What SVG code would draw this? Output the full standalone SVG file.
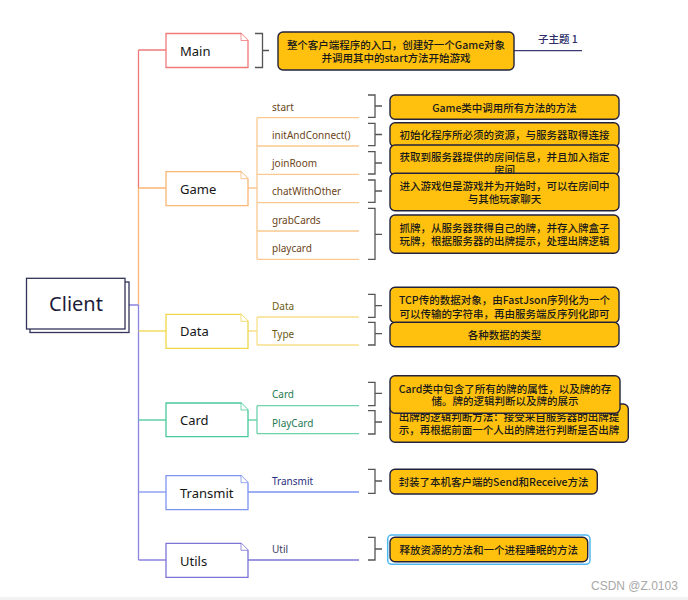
<svg xmlns="http://www.w3.org/2000/svg" width="688" height="600" viewBox="0 0 688 600">
<style>
.node{fill:#fff;stroke-width:1.3}
.fold{fill:#fff;stroke-width:0.8}
.nl{font-family:"Noto Sans","Liberation Sans",sans-serif;font-size:13px;font-weight:400;fill:#161616;dominant-baseline:central}
.sl{font-family:"Noto Sans","Liberation Sans",sans-serif;font-size:10px;font-weight:400;dominant-baseline:central}
.co{fill:#ffc10e;stroke:#22223d;stroke-width:1.4}
.ct{font-family:"Noto Sans CJK SC","Noto Sans",sans-serif;font-size:10.5px;font-weight:500;fill:#1a1a1a;text-anchor:middle;dominant-baseline:central}
.br{fill:none;stroke:#555;stroke-width:1.3}
.ln{fill:none;stroke-width:1.3}
</style>
<rect x="0" y="0" width="688" height="600" fill="#fff"/>
<rect x="0" y="597" width="688" height="3" fill="#f2f2f2"/>

<g id="connectors">
  <path class="ln" stroke="#f07a7a" d="M138.5 50V188M138.5 50H166"/>
  <path class="ln" stroke="#f9b675" d="M138.5 188V305M138.5 188H166"/>
  <path class="ln" stroke="#8a84e0" d="M138.5 305V560M129 305H138.5M138.5 560H166"/>
  <path class="ln" stroke="#f2d64b" d="M138.5 331H166"/>
  <path class="ln" stroke="#49c99b" d="M138.5 420H166"/>
  <path class="ln" stroke="#7d93f0" d="M138.5 492H166"/>
  <path class="ln" stroke="#fbc990" d="M248 188H257M257 117.7V259.3M257 117.7H359M257 146H359M257 174.3H359M257 202.7H359M257 231H359M257 259.3H359"/>
  <path class="ln" stroke="#f7e08a" d="M248 331H257M257 317V345M257 317H359M257 345H359"/>
  <path class="ln" stroke="#6ed3ad" d="M248 420H257M257 405.7V433.7M257 405.7H359M257 433.7H359"/>
  <path class="ln" stroke="#7d93f0" d="M248 492H359"/>
  <path class="ln" stroke="#7b74d6" d="M248 560H359"/>
  <path class="br" d="M255 33.5H262.5V67.5H255M262.5 50.5H269"/>
  <path class="br" d="M368 95H375V117.3H368M375 106H382"/>
  <path class="br" d="M368 123.3H375V145.7H368M375 134.5H382"/>
  <path class="br" d="M368 151.7H375V174H368M375 163H382"/>
  <path class="br" d="M368 180H375V202.3H368M375 191H382"/>
  <path class="br" d="M368 208.3H375V259.3H368M375 234.3H382"/>
  <path class="br" d="M368 294.3H375V317.3H368M375 305.7H382"/>
  <path class="br" d="M368 322.3H375V345H368M375 333.7H382"/>
  <path class="br" d="M368 382.3H375V405.7H368M375 393.3H382"/>
  <path class="br" d="M368 410.7H375V434H368M375 422H382"/>
  <path class="br" d="M368 469.3H375V493.3H368M375 481H382"/>
  <path class="br" d="M368 537.3H375V560H368M375 549H382"/>
  <path class="ln" stroke="#3a3a70" d="M514 50.7H582"/>
</g>

<g id="client">
  <rect x="30" y="282" width="99" height="50.5" fill="#fff" stroke="#33335a" stroke-width="1.3"/>
  <rect x="26.5" y="278.3" width="98.5" height="50.7" fill="#fff" stroke="#33335a" stroke-width="1.3"/>
  <text x="76" y="303.5" font-family="'Noto Sans','Liberation Sans',sans-serif" font-size="20" font-weight="400" fill="#1c1c3a" text-anchor="middle" dominant-baseline="central">Client</text>
</g>

<g id="main">
  <path class="node" stroke="#f07a7a" d="M166 33.5H241L248 40.5V67.5H166Z"/>
  <path class="fold" stroke="#f07a7a" d="M241 33.5V40.5H248"/>
  <text class="nl" x="180" y="50.5">Main</text>
</g>
<g id="game">
  <path class="node" stroke="#f9b675" d="M166 171.7H241L248 178.7V205.7H166Z"/>
  <path class="fold" stroke="#f9b675" d="M241 171.7V178.7H248"/>
  <text class="nl" x="180" y="188.5">Game</text>
</g>
<g id="data">
  <path class="node" stroke="#f2d64b" d="M166 314.3H241L248 321.3V348.3H166Z"/>
  <path class="fold" stroke="#f2d64b" d="M241 314.3V321.3H248"/>
  <text class="nl" x="180" y="331">Data</text>
</g>
<g id="card">
  <path class="node" stroke="#49c99b" d="M166 403H241L248 410V436.7H166Z"/>
  <path class="fold" stroke="#49c99b" d="M241 403V410H248"/>
  <text class="nl" x="180" y="420">Card</text>
</g>
<g id="transmit">
  <path class="node" stroke="#7d93f0" d="M166 475.7H241L248 482.7V509.7H166Z"/>
  <path class="fold" stroke="#7d93f0" d="M241 475.7V482.7H248"/>
  <text class="nl" x="180" y="492.5">Transmit</text>
</g>
<g id="utils">
  <path class="node" stroke="#7b74d6" d="M166 543.3H241L248 550.3V577.3H166Z"/>
  <path class="fold" stroke="#7b74d6" d="M241 543.3V550.3H248"/>
  <text class="nl" x="180" y="560.5">Utils</text>
</g>

<g id="subitems">
  <text class="sl" x="272" y="106.5" fill="#6b4520">start</text>
  <text class="sl" x="272" y="134.5" fill="#6b4520">initAndConnect()</text>
  <text class="sl" x="272" y="163" fill="#6b4520">joinRoom</text>
  <text class="sl" x="272" y="191" fill="#6b4520">chatWithOther</text>
  <text class="sl" x="272" y="219.5" fill="#6b4520">grabCards</text>
  <text class="sl" x="272" y="248" fill="#6b4520">playcard</text>
  <text class="sl" x="272" y="305.7" fill="#6b5c13">Data</text>
  <text class="sl" x="272" y="334" fill="#6b5c13">Type</text>
  <text class="sl" x="272" y="394" fill="#1e7a52">Card</text>
  <text class="sl" x="272" y="422.7" fill="#1e7a52">PlayCard</text>
  <text class="sl" x="272" y="481" fill="#2b2f80">Transmit</text>
  <text class="sl" x="272" y="549" fill="#3a3a60">Util</text>
</g>

<g id="callout-main">
  <rect class="co" x="278" y="32" width="236" height="38" rx="5"/>
  <text class="ct" x="396" y="44" font-size="10.9">整个客户端程序的入口，创建好一个Game对象</text>
  <text class="ct" x="396" y="57.5" font-size="10.9">并调用其中的start方法开始游戏</text>
</g>
<g id="subtopic">
  <text x="538" y="38" font-family="'Noto Sans CJK SC','Noto Sans',sans-serif" font-size="10.5" font-weight="500" fill="#2d2d6b" dominant-baseline="central">子主题 1</text>
</g>
<g id="callout-start">
  <rect class="co" x="390" y="95" width="229" height="24.3" rx="5"/>
  <text class="ct" x="504.5" y="107">Game类中调用所有方法的方法</text>
</g>
<g id="callout-init">
  <rect class="co" x="390" y="122.7" width="229" height="24" rx="5"/>
  <text class="ct" x="504.5" y="134.5">初始化程序所必须的资源，与服务器取得连接</text>
</g>
<g id="callout-join">
  <rect class="co" x="390" y="145" width="229" height="30" rx="5"/>
  <text class="ct" x="504.5" y="156.7">获取到服务器提供的房间信息，并且加入指定</text>
  <text class="ct" x="504.5" y="169.5">房间</text>
</g>
<g id="callout-chat">
  <rect class="co" x="390" y="173.3" width="229" height="37.4" rx="5"/>
  <text class="ct" x="504.5" y="185.3">进入游戏但是游戏并为开始时，可以在房间中</text>
  <text class="ct" x="504.5" y="198.5">与其他玩家聊天</text>
</g>
<g id="callout-grab">
  <rect class="co" x="390" y="215" width="229" height="38.3" rx="5"/>
  <text class="ct" x="504.5" y="227.5">抓牌，从服务器获得自己的牌，并存入牌盒子</text>
  <text class="ct" x="504.5" y="240.8">玩牌，根据服务器的出牌提示，处理出牌逻辑</text>
</g>
<g id="callout-data">
  <rect class="co" x="390" y="287.3" width="229" height="35.4" rx="5"/>
  <text class="ct" x="504.5" y="299.5">TCP传的数据对象，由FastJson序列化为一个</text>
  <text class="ct" x="504.5" y="313.3">可以传输的字符串，再由服务端反序列化即可</text>
</g>
<g id="callout-type">
  <rect class="co" x="390" y="322.3" width="229" height="24.4" rx="5"/>
  <text class="ct" x="504.5" y="334.3">各种数据的类型</text>
</g>
<g id="callout-playcard">
  <rect class="co" x="390" y="404" width="238.3" height="38.3" rx="5"/>
  <text class="ct" x="509" y="416.7">出牌的逻辑判断方法：接受来自服务器的出牌提</text>
  <text class="ct" x="509" y="429.3">示，再根据前面一个人出的牌进行判断是否出牌</text>
</g>
<g id="callout-card">
  <rect class="co" x="390" y="375.7" width="230" height="37.6" rx="5"/>
  <text class="ct" x="505" y="388.3">Card类中包含了所有的牌的属性，以及牌的存</text>
  <text class="ct" x="505" y="400.8">储。牌的逻辑判断以及牌的展示</text>
</g>
<g id="callout-transmit">
  <rect class="co" x="390" y="469.3" width="207.3" height="24.7" rx="5"/>
  <text class="ct" x="493.6" y="481.7">封装了本机客户端的Send和Receive方法</text>
</g>
<g id="callout-util">
  <rect x="387.7" y="535" width="202.3" height="29.3" rx="4" fill="none" stroke="#4fb8f0" stroke-width="1.5"/>
  <rect class="co" x="390" y="537.3" width="197.7" height="24.4" rx="5"/>
  <text class="ct" x="488.8" y="549.5">释放资源的方法和一个进程睡眠的方法</text>
</g>
<text x="591" y="586" font-family="'Liberation Sans','Noto Sans',sans-serif" font-size="12" fill="#a8a8a8" dominant-baseline="central">CSDN @Z.0103</text>
</svg>
